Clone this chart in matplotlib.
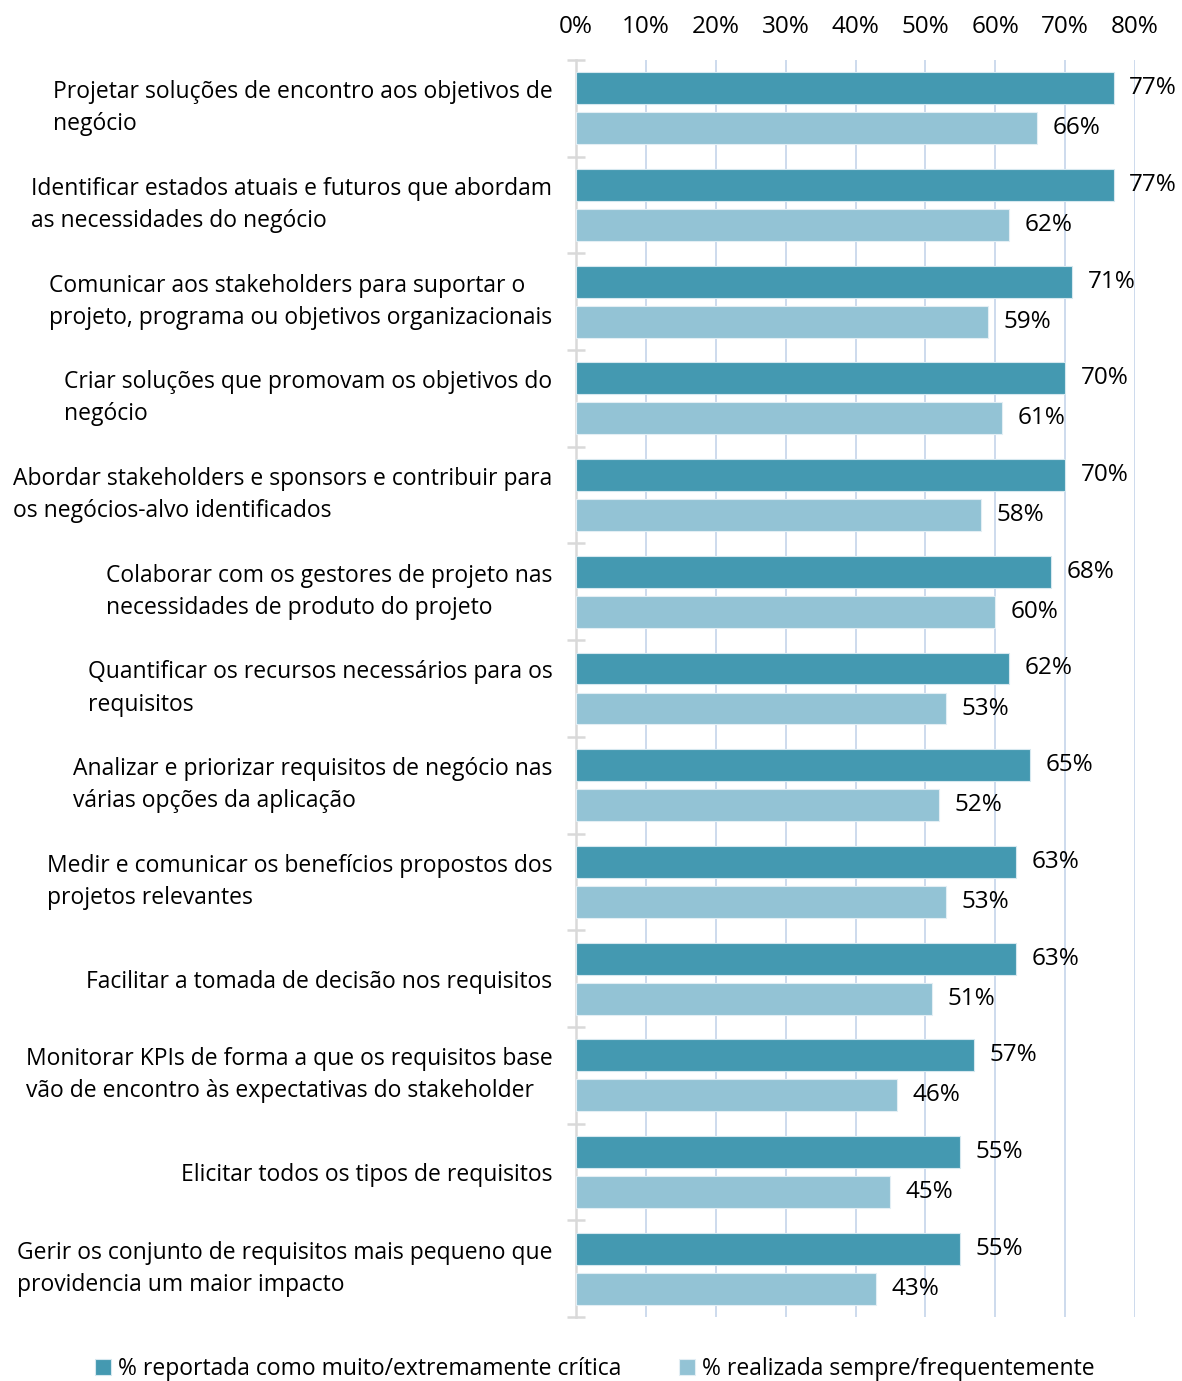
import matplotlib.pyplot as plt
import numpy as np

plt.rcParams['font.family'] = ['Open Sans', 'DejaVu Sans']

categories = [
    "Projetar soluções de encontro aos objetivos de\nnegócio",
    "Identificar estados atuais e futuros que abordam\nas necessidades do negócio",
    "Comunicar aos stakeholders para suportar o\nprojeto, programa ou objetivos organizacionais",
    "Criar soluções que promovam os objetivos do\nnegócio",
    "Abordar stakeholders e sponsors e contribuir para\nos negócios-alvo identificados",
    "Colaborar com os gestores de projeto nas\nnecessidades de produto do projeto",
    "Quantificar os recursos necessários para os\nrequisitos",
    "Analizar e priorizar requisitos de negócio nas\nvárias opções da aplicação",
    "Medir e comunicar os benefícios propostos dos\nprojetos relevantes",
    "Facilitar a tomada de decisão nos requisitos",
    "Monitorar KPIs de forma a que os requisitos base\nvão de encontro às expectativas do stakeholder",
    "Elicitar todos os tipos de requisitos",
    "Gerir os conjunto de requisitos mais pequeno que\nprovidencia um maior impacto",
]
critica = [77, 77, 71, 70, 70, 68, 62, 65, 63, 63, 57, 55, 55]
realizada = [66, 62, 59, 61, 58, 60, 53, 52, 53, 51, 46, 45, 43]
series_names = ["% reportada como muito/extremamente crítica",
                "% realizada sempre/frequentemente"]
xticks = [0, 10, 20, 30, 40, 50, 60, 70, 80]

dark = '#4499B1'
light = '#93C3D5'
fs = 16.5
fs_num = 17.5

fig = plt.figure(figsize=(11.82, 13.81), dpi=100)
ax = fig.add_axes([576 / 1182, 1 - 1317 / 1381, (1135 - 576) / 1182, (1317 - 60) / 1381])

y = np.arange(len(categories))
off = 0.207
h = 0.33
b1 = ax.barh(y - off, critica, height=h, color=dark, edgecolor='#d6e8ef', linewidth=0.8, zorder=3)
b2 = ax.barh(y + off, realizada, height=h, color=light, edgecolor='#e3eef4', linewidth=0.8, zorder=3)
ax.bar_label(b1, labels=[f"{v}%" for v in critica], padding=11, fontsize=fs_num)
ax.bar_label(b2, labels=[f"{v}%" for v in realizada], padding=11, fontsize=fs_num)

ax.set_xlim(0, 80)
ax.set_ylim(len(categories) - 0.5, -0.5)

ax.xaxis.tick_top()
ax.tick_params(axis='x', length=0, pad=15)
ax.set_xticks(xticks)
ax.set_xticklabels([f"{t}%" for t in xticks], fontsize=fs_num)
ax.grid(axis='x', color='#c9d8ec', linewidth=1.3, zorder=0)
ax.xaxis.get_gridlines()[0].set_visible(False)

ax.tick_params(axis='y', which='major', length=0, pad=17)
ax.tick_params(axis='y', which='minor', direction='inout', length=13, width=1.8, color='#d9d9d9')
ax.set_yticks(y)
ax.set_yticks(np.arange(-0.5, len(categories)), minor=True)
ax.set_yticklabels(categories)
for lbl in ax.get_yticklabels():
    lbl.set_fontsize(fs)
    lbl.set_multialignment('left')
    lbl.set_linespacing(1.45)
    if '\n' in lbl.get_text():
        lbl.set_va('center')

for s in ['top', 'right', 'bottom']:
    ax.spines[s].set_visible(False)
ax.spines['left'].set_color('#d9d9d9')
ax.spines['left'].set_linewidth(1.8)

fig.legend([b1, b2], series_names, loc='center', bbox_to_anchor=(595 / 1182, 1 - 1369 / 1381),
           ncol=2, frameon=False, fontsize=fs, handlelength=0.7, handleheight=0.7,
           handletextpad=0.3, columnspacing=2.5)

fig.savefig('out.png', dpi=100)
